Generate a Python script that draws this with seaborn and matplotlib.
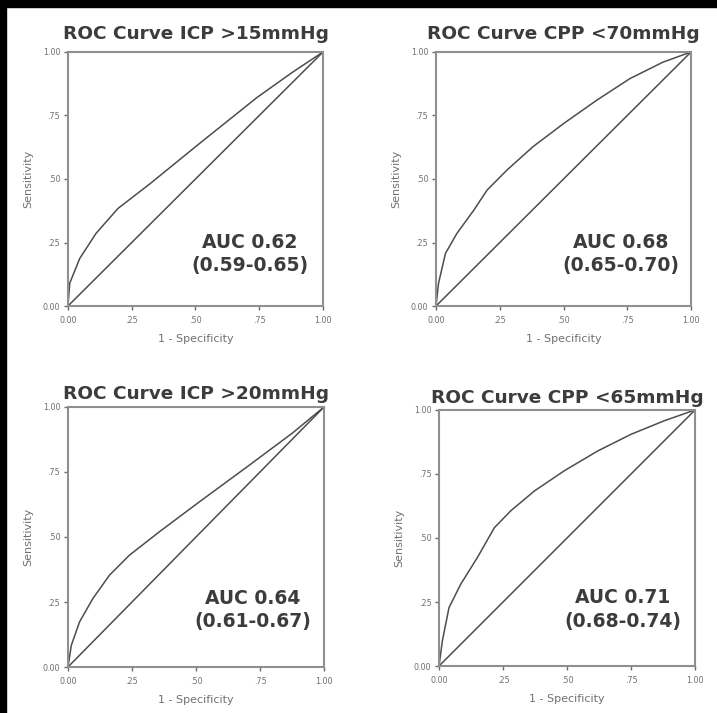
import matplotlib
matplotlib.use("Agg")
import matplotlib.pyplot as plt
import seaborn as sns
import pandas as pd

sns.set_style("white")
plt.rcParams['font.family'] = ['DejaVu Sans']

# ---- data ----
titles = ["ROC Curve ICP >15mmHg", "ROC Curve CPP <70mmHg",
          "ROC Curve ICP >20mmHg", "ROC Curve CPP <65mmHg"]
auc_labels = ["AUC 0.62\n(0.59-0.65)", "AUC 0.68\n(0.65-0.70)",
              "AUC 0.64\n(0.61-0.67)", "AUC 0.71\n(0.68-0.74)"]

fpr_icp15 = [0.0, 0.007, 0.046, 0.11, 0.196, 0.32, 0.516, 0.74, 0.88, 1.0]
tpr_icp15 = [0.0, 0.09, 0.187, 0.286, 0.384, 0.48, 0.64, 0.82, 0.92, 1.0]

fpr_cpp70 = [0.0, 0.01, 0.037, 0.082, 0.148, 0.2, 0.278, 0.38, 0.5, 0.63, 0.76, 0.89, 1.0]
tpr_cpp70 = [0.0, 0.09, 0.207, 0.286, 0.377, 0.456, 0.535, 0.627, 0.718, 0.81, 0.895, 0.96, 1.0]

fpr_icp20 = [0.0, 0.013, 0.045, 0.097, 0.162, 0.24, 0.357, 0.513, 0.708, 0.877, 1.0]
tpr_icp20 = [0.0, 0.083, 0.173, 0.263, 0.353, 0.43, 0.52, 0.635, 0.776, 0.9, 1.0]

fpr_cpp65 = [0.0, 0.013, 0.039, 0.085, 0.15, 0.216, 0.28, 0.373, 0.49, 0.62, 0.75, 0.88, 1.0]
tpr_cpp65 = [0.0, 0.098, 0.228, 0.32, 0.424, 0.54, 0.606, 0.684, 0.763, 0.84, 0.905, 0.958, 1.0]

curves = [(fpr_icp15, tpr_icp15), (fpr_cpp70, tpr_cpp70),
          (fpr_icp20, tpr_icp20), (fpr_cpp65, tpr_cpp65)]

ref_line = [0.0, 1.0]
tick_vals = [0.0, 0.25, 0.5, 0.75, 1.0]
tick_labels = ["0.00", ".25", ".50", ".75", "1.00"]

# axes rectangles (figure fractions)
rects = [
    [0.0948, 0.5708, 0.3557, 0.3563],
    [0.6081, 0.5708, 0.3557, 0.3563],
    [0.0948, 0.0645, 0.3571, 0.3647],
    [0.6123, 0.0659, 0.3571, 0.3591],
]
title_pads = [9, 9, 6, 5]
auc_pos = [(0.712, 0.205), (0.724, 0.205), (0.72, 0.22), (0.717, 0.22)]

fig = plt.figure(figsize=(7.17, 7.13), dpi=100)
fig.patch.set_facecolor("white")

line_col = "#4d4d4d"
frame_col = "#8f8f8f"
text_col = "#3c3c3c"
small_col = "#707070"

for i in range(4):
    ax = fig.add_axes(rects[i])
    fx, ty = curves[i]
    df = pd.DataFrame({"fpr": fx, "tpr": ty})
    sns.lineplot(data=df, x="fpr", y="tpr", ax=ax, color=line_col,
                 linewidth=1.1, estimator=None, sort=False)
    dref = pd.DataFrame({"fpr": ref_line, "tpr": ref_line})
    sns.lineplot(data=dref, x="fpr", y="tpr", ax=ax, color=line_col,
                 linewidth=1.1, estimator=None)
    ax.set_xlim(0, 1)
    ax.set_ylim(0, 1)
    ax.set_xticks(tick_vals)
    ax.set_xticklabels(tick_labels)
    ax.set_yticks(tick_vals)
    ax.set_yticklabels(tick_labels)
    ax.tick_params(axis="both", which="both", labelsize=5.8, colors="#6a6a6a",
                   length=3, width=1.0, direction="out",
                   bottom=True, left=True)
    ax.tick_params(axis="x", pad=4)
    ax.tick_params(axis="y", pad=2.5)
    ax.tick_params(labelcolor=small_col)
    for s in ax.spines.values():
        s.set_color(frame_col)
        s.set_linewidth(1.5)
        s.set_visible(True)
    ax.set_xlabel("1 - Specificity", fontsize=8, color=small_col, labelpad=7)
    ax.set_ylabel("Sensitivity", fontsize=8, color=small_col, labelpad=7)
    ax.set_title(titles[i], fontsize=13.3, fontweight="bold", color=text_col,
                 pad=title_pads[i])
    ax.text(auc_pos[i][0], auc_pos[i][1], auc_labels[i], transform=ax.transAxes,
            ha="center", va="center", fontsize=13.5, fontweight="bold",
            color=text_col, linespacing=1.3)

# black border strips at top and left as in the reference scan
fig.patches.append(plt.Rectangle((0, 1 - 7 / 713), 1, 7 / 713, transform=fig.transFigure,
                                 color="black", zorder=10))
fig.patches.append(plt.Rectangle((0, 0), 6 / 717, 1, transform=fig.transFigure,
                                 color="black", zorder=10))

fig.savefig("out.png", dpi=100, facecolor="white")
